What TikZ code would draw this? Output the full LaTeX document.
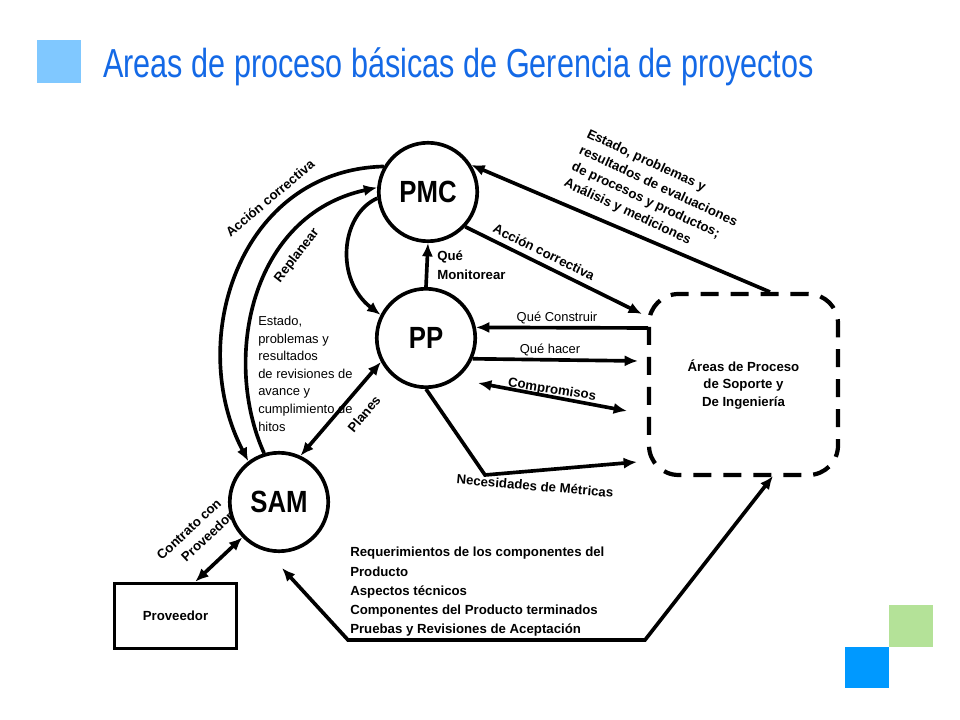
\documentclass[tikz,border=0pt]{standalone}
\usepackage{fontspec}
\setmainfont{Liberation Sans}
\usepackage{tikz}
\usetikzlibrary{arrows.meta}
\definecolor{titleblue}{RGB}{20,105,230}
\definecolor{lightsq}{RGB}{128,200,255}
\definecolor{greensq}{RGB}{180,226,152}
\definecolor{bluesq}{RGB}{0,153,255}
\tikzset{
    proc/.style={circle,draw,line width=2.6pt,minimum size=70pt,inner sep=0pt,font=\fontsize{21.8}{24}\selectfont\bfseries},
    lbl/.style={inner sep=0pt,font=\fontsize{9.4}{12.8}\selectfont\bfseries},
    plain/.style={inner sep=0pt,font=\fontsize{9.2}{12.5}\selectfont},
    flow/.style={line width=2.6pt,-{Latex[length=9.5pt,width=8pt]}},
    both/.style={line width=2.6pt,{Latex[length=9.5pt,width=8pt]}-{Latex[length=9.5pt,width=8pt]}},
}
\begin{document}
\begin{tikzpicture}[x=0.025cm,y=-0.025cm]
                \useasboundingbox (0,0) rectangle (960,720);

                \fill[lightsq] (37,40) rectangle (81,83);
                \node[anchor=base west,inner sep=0pt,text=titleblue,font=\fontsize{28.8}{32}\selectfont] (title) at (103,78)
                {\scalebox{0.755}[1]{Areas de proceso básicas de Gerencia de proyectos}};

                \node[proc] (pmc) at (428,192) {\scalebox{0.84}[1]{PMC}};
                \node[proc] (pp) at (426,338) {\scalebox{0.84}[1]{PP}};
                \node[proc] (sam) at (279,502) {\scalebox{0.84}[1]{SAM}};

                \node[draw,line width=2.6pt,minimum width=86.8pt,minimum height=46.2pt,font=\fontsize{9.4}{12}\selectfont\bfseries] (prov) at (175.5,616) {Proveedor};

                \node[draw,line width=3pt,dash pattern=on 12.8pt off 8.5pt,rounded corners=21pt,
                minimum width=134.4pt,minimum height=128.7pt,align=center,
                font=\fontsize{9.4}{12.4}\selectfont\bfseries] (areas) at (743.5,384.5)
                {Áreas de Proceso\\de Soporte y\\De Ingeniería};

                \coordinate (acx) at (642,314);
                \coordinate (est) at (770,292);
                \coordinate (qc) at (648,328);
                \coordinate (qh) at (638,361);
                \coordinate (cp1) at (478,383);
                \coordinate (cp2) at (627,411);
                \coordinate (nbend) at (485,475);
                \coordinate (nm) at (637,462);
                \coordinate (rq) at (282,568);
                \coordinate (rql) at (348,640);
                \coordinate (rqr) at (645,640);
                \coordinate (rb) at (773,476);

                \draw[flow] (pmc.150) .. controls (240,170) and (185,340) .. (sam.127);
                \draw[flow] (sam.107) .. controls (222,360) and (250,215) .. (pmc.175);
                \draw[flow] (pmc.187) .. controls (340,215) and (335,280) .. (pp.153);
                \draw[flow] (pp.north) -- (pmc.south);
                \draw[flow] (pmc.-43) -- (acx);
                \draw[flow] (est) -- (pmc.32);
                \draw[flow] (qc) -- (pp.12);
                \draw[flow] (pp.-24) -- (qh);
                \draw[both] (cp1) -- (cp2);
                \draw[flow] (pp.-90) -- (nbend) -- (nm);
                \draw[both] (pp.208) -- (sam.65);
                \draw[both] (sam.224) -- (prov.60);
                \draw[both] (rq) -- (rql) -- (rqr) -- (rb);

                \node[lbl,rotate=40] (ac1) at (270,198) {Acción correctiva};
                \node[lbl,rotate=52] (rp) at (297,256) {Replanear};
                \node[lbl,anchor=north west,align=left,font=\fontsize{9.4}{13.5}\selectfont\bfseries] (qm) at (437,251) {Qué\\Monitorear};
                \node[lbl,rotate=-26] (ac2) at (544,252) {Acción correctiva};
                \node[lbl,rotate=-25,anchor=north west,align=left] (eval) at (590,128)
                {Estado, problemas y\\resultados de evaluaciones\\de procesos y productos;\\Análisis y mediciones};
                \node[plain,anchor=north west,align=left] (rev) at (258,316)
                {Estado,\\problemas y\\resultados\\de revisiones de\\avance y\\cumplimiento de\\hitos};
                \node[plain] (qcl) at (557,318) {Qué Construir};
                \node[plain] (qhl) at (550,350) {Qué hacer};
                \node[lbl,rotate=-9] (cml) at (552,390) {Compromisos};
                \node[lbl,rotate=-5] (nml) at (535,486) {Necesidades de Métricas};
                \node[lbl,rotate=50] (pl) at (364,414) {Planes};
                \node[lbl,rotate=43,align=right] (ctl) at (195,536) {Contrato con\\Proveedor};
                \node[lbl,anchor=north west,align=left,font=\fontsize{9.4}{13.7}\selectfont\bfseries] (req) at (350,547)
                {Requerimientos de los componentes del\\Producto\\Aspectos técnicos\\Componentes del Producto terminados\\Pruebas y Revisiones de Aceptación};

                \fill[greensq] (889,605) rectangle (933,647);
                \fill[bluesq] (845,647) rectangle (889,688);
\end{tikzpicture}
\end{document}
